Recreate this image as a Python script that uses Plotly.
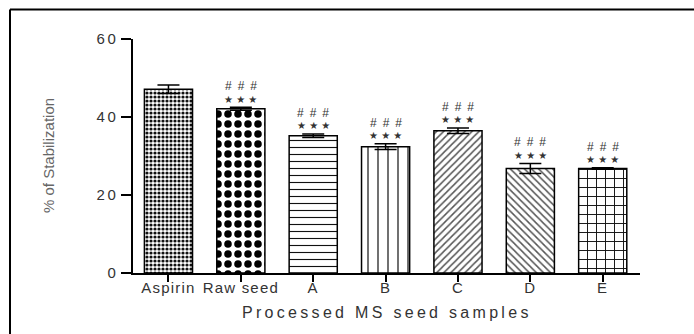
import plotly.graph_objects as go

# ---- data ----
categories = ["Aspirin", "Raw seed", "A", "B", "C", "D", "E"]
means = [47.1, 42.1, 35.2, 32.4, 36.5, 26.8, 26.8]
errors = [1.1, 0.4, 0.45, 0.75, 0.7, 1.3, 0.2]
sig_hash = ["", "###", "###", "###", "###", "###", "###"]
sig_star = ["", "★★★", "★★★", "★★★", "★★★", "★★★", "★★★"]
y_ticks = [0, 20, 40, 60]

pattern_shapes = [".", ".", "-", "|", "/", "\\", "+"]
pattern_sizes = [4, 10, 7, 10, 5, 5, 9]
pattern_solid = [0.5, 0.45, 0.16, 0.12, 0.3, 0.3, 0.2]
pattern_fg = ["#111", "#000", "#111", "#111", "#555", "#555", "#111"]

fig = go.Figure()
fig.add_trace(go.Bar(
    x=categories, y=means, width=0.665,
    marker=dict(
        color="white",
        line=dict(color="black", width=1.5),
        pattern=dict(shape=pattern_shapes, size=pattern_sizes,
                     solidity=pattern_solid, fgcolor=pattern_fg,
                     fgopacity=1, bgcolor="white", fillmode="overlay"),
    ),
    error_y=dict(type="data", array=errors, visible=True,
                 color="black", thickness=1.5, width=11),
    showlegend=False,
))

def sp(t, ls):
    return f"<span style='letter-spacing:{ls}px'>{t}</span>"

ann = []
for c, m, e, h, s in zip(categories, means, errors, sig_hash, sig_star):
    if h:
        ann.append(dict(x=c, y=m + e, xref="x", yref="y",
                        text="\u2002".join(h), showarrow=False,
                        yanchor="middle", yshift=21,
                        font=dict(family="Liberation Sans, Arial", size=12, color="#333")))
    if s:
        ann.append(dict(x=c, y=m + e, xref="x", yref="y",
                        text=" ".join(s), showarrow=False,
                        yanchor="middle", yshift=8,
                        font=dict(family="DejaVu Sans", size=10, color="#333")))

ann.append(dict(x=0.5, y=0, xref="paper", yref="paper", yanchor="middle",
                yshift=-39, showarrow=False,
                text=sp("Processed MS seed samples", 3.3),
                font=dict(family="Liberation Sans, Arial", size=16, color="#333")))
ann.append(dict(x=0, y=0.5, xref="paper", yref="paper", xanchor="center",
                xshift=-85, textangle=-90, showarrow=False,
                text="% of Stabilization",
                font=dict(family="Liberation Sans, Arial", size=15, color="#666")))

fig.update_layout(
    width=694, height=334, autosize=False,
    margin=dict(l=133, r=54, t=39, b=61, pad=0),
    paper_bgcolor="white", plot_bgcolor="white",
    annotations=ann,
    shapes=[
        dict(type="line", xref="paper", yref="paper",
             x0=-0.2426, x1=-0.2426, y0=1.126, y1=-0.3,
             line=dict(color="black", width=2)),
        dict(type="line", xref="paper", yref="paper",
             x0=-0.2426, x1=1.2, y0=1.126, y1=1.126,
             line=dict(color="black", width=2)),
    ],
    xaxis=dict(
        type="category", range=[-0.49, 6.515],
        tickvals=categories,
        ticktext=[sp(c, 1.2) for c in categories],
        ticks="outside", ticklen=7, tickwidth=1.5, tickcolor="black",
        ticklabelstandoff=-7,
        showline=True, linecolor="black", linewidth=1.5,
        showgrid=False, zeroline=False,
        tickfont=dict(family="Liberation Sans, Arial", size=15, color="#333"),
    ),
    yaxis=dict(
        range=[0, 60], tickvals=y_ticks,
        ticktext=[sp(str(v), 2.5) for v in y_ticks],
        ticks="outside", ticklen=10, tickwidth=1.5, tickcolor="black",
        showline=True, linecolor="black", linewidth=1.5,
        showgrid=False, zeroline=False,
        tickfont=dict(family="Liberation Sans, Arial", size=15, color="#333"),
    ),
)

fig.write_html("out.html")
